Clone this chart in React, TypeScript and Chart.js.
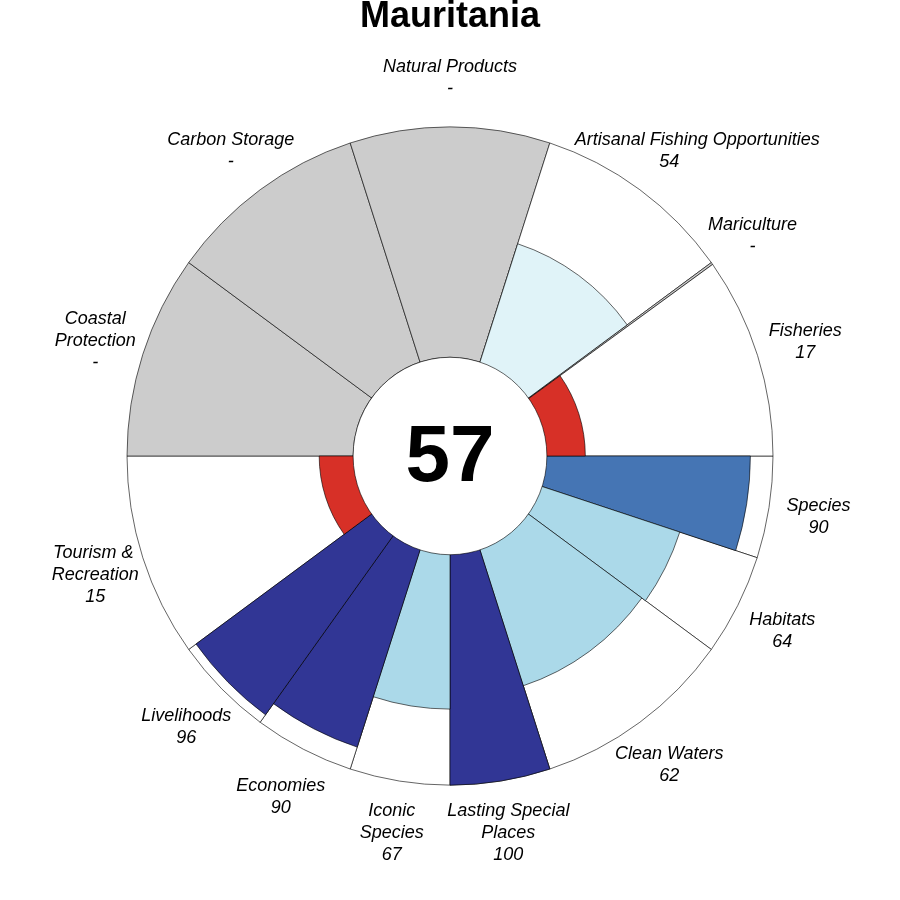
import React, { useEffect, useRef } from "react";
import { Chart, registerables } from "chart.js";

Chart.register(...registerables);

const title = "Mauritania";
const overallScore = 57;
const goalLabels = [
  "Species",
  "Habitats",
  "Clean Waters",
  "Lasting Special\nPlaces",
  "Iconic\nSpecies",
  "Economies",
  "Livelihoods",
  "Tourism &\nRecreation",
  "Coastal\nProtection",
  "Carbon Storage",
  "Natural Products",
  "Artisanal Fishing Opportunities",
  "Mariculture",
  "Fisheries",
];
const goalScores: (number | null)[] = [90, 64, 62, 100, 67, 90, 96, 15, null, null, null, 54, null, 17];
const goalWeights = [18, 18, 36, 18, 18, 18, 18, 36, 36, 36, 36, 36, 0.4, 35.6];
const goalColors = [
  "#4575B4",
  "#ABD9E9",
  "#ABD9E9",
  "#313695",
  "#ABD9E9",
  "#313695",
  "#313695",
  "#D73027",
  "#CCCCCC",
  "#CCCCCC",
  "#CCCCCC",
  "#E0F3F8",
  "#CCCCCC",
  "#D73027",
];
const maxScore = 100;
const innerFrac = 0.3;
const yStretch = 1.019;

export default function App() {
  const ref = useRef<HTMLCanvasElement | null>(null);

  useEffect(() => {
    const canvas = ref.current;
    if (!canvas) return;
    const scaleMin = (-maxScore * innerFrac) / (1 - innerFrac);

    const overlay = {
      id: "flowerOverlay",
      beforeDatasetsDraw(chart: any) {
        const ctx = chart.ctx as CanvasRenderingContext2D;
        const scale = chart.scales.r;
        ctx.save();
        ctx.translate(scale.xCenter, scale.yCenter);
        ctx.scale(1, yStretch);
        ctx.translate(-scale.xCenter, -scale.yCenter);
      },
      afterDatasetsDraw(chart: any) {
        const ctx = chart.ctx as CanvasRenderingContext2D;
        ctx.restore();
        const scale = chart.scales.r;
        const cx = scale.xCenter;
        const cy = scale.yCenter;
        const R = scale.drawingArea;
        const r0 = scale.getDistanceFromCenterForValue(0);
        ctx.save();
        // center circle
        ctx.beginPath();
        ctx.ellipse(cx, cy, r0, r0 * yStretch, 0, 0, Math.PI * 2);
        ctx.fillStyle = "#FFFFFF";
        ctx.fill();
        ctx.lineWidth = 0.6;
        ctx.strokeStyle = "#000000";
        ctx.stroke();
        // center score
        ctx.fillStyle = "#000000";
        ctx.textAlign = "center";
        ctx.textBaseline = "middle";
        ctx.font = "bold 80px 'Liberation Sans', Arial, sans-serif";
        ctx.fillText(String(overallScore), cx, cy + 3);
        // title
        ctx.font = "bold 36px 'Liberation Sans', Arial, sans-serif";
        ctx.fillText(title, cx, 17);
        // labels
        ctx.font = "italic 18px 'Liberation Sans', Arial, sans-serif";
        const lh = 22;
        const limit = (R + 5) / R;
        const inside = (px: number, py: number) => {
          const nx = (px - cx) / R;
          const ny = (py - cy) / (R * yStretch);
          return Math.hypot(nx, ny) < limit;
        };
        let acc = 0;
        for (let i = 0; i < goalLabels.length; i++) {
          const mid = ((acc + goalWeights[i] / 2) * Math.PI) / 180;
          acc += goalWeights[i];
          const s = goalScores[i];
          const lines = goalLabels[i].split("\n").concat([s === null ? "-" : String(s)]);
          const n = lines.length;
          const rl = R + 50;
          const x = cx + rl * Math.cos(mid);
          const y = cy + rl * yStretch * Math.sin(mid) + 2;
          const dir = Math.cos(mid) >= 0 ? 1 : -1;
          for (let k = 0; k < n; k++) {
            const ly = y + (k - (n - 1) / 2) * lh;
            const hw = ctx.measureText(lines[k]).width / 2;
            let lx = x;
            let guard = 0;
            while (
              guard < 200 &&
              (inside(lx - hw, ly - 7) || inside(lx + hw, ly - 7) || inside(lx - hw, ly + 7) || inside(lx + hw, ly + 7))
            ) {
              lx += dir;
              guard++;
            }
            ctx.fillText(lines[k], lx, ly);
          }
        }
        ctx.restore();
      },
    };

    const chart = new Chart(canvas, {
      type: "polarArea",
      data: {
        labels: goalLabels.map((l) => l.replace("\n", " ")),
        datasets: [
          {
            label: "score",
            data: goalScores.map((v) => (v === null ? 0 : v)),
            backgroundColor: goalColors,
            borderColor: "#000000",
            borderWidth: 0.6,
            angle: goalWeights,
          } as any,
          {
            label: "full",
            data: goalScores.map(() => maxScore),
            backgroundColor: goalScores.map((v, i) => (v === null ? goalColors[i] : "#FFFFFF")),
            borderColor: "#000000",
            borderWidth: 0.6,
            angle: goalWeights,
          } as any,
        ],
      },
      options: {
        animation: false,
        responsive: false,
        events: [],
        layout: { padding: { left: 127, right: 127, top: 133, bottom: 121 } },
        plugins: {
          legend: { display: false },
          tooltip: { enabled: false },
          title: { display: false },
        },
        scales: {
          r: {
            min: scaleMin,
            max: maxScore,
            startAngle: 90,
            ticks: { display: false },
            grid: { display: false },
            angleLines: { display: false },
            pointLabels: { display: false },
          },
        },
      } as any,
      plugins: [overlay],
    });
    return () => chart.destroy();
  }, []);

  return (
    <div style={{ position: "absolute", left: 0, top: 0, width: 900, height: 900, background: "#FFFFFF" }}>
      <canvas ref={ref} width={900} height={900} style={{ width: 900, height: 900 }} />
    </div>
  );
}
